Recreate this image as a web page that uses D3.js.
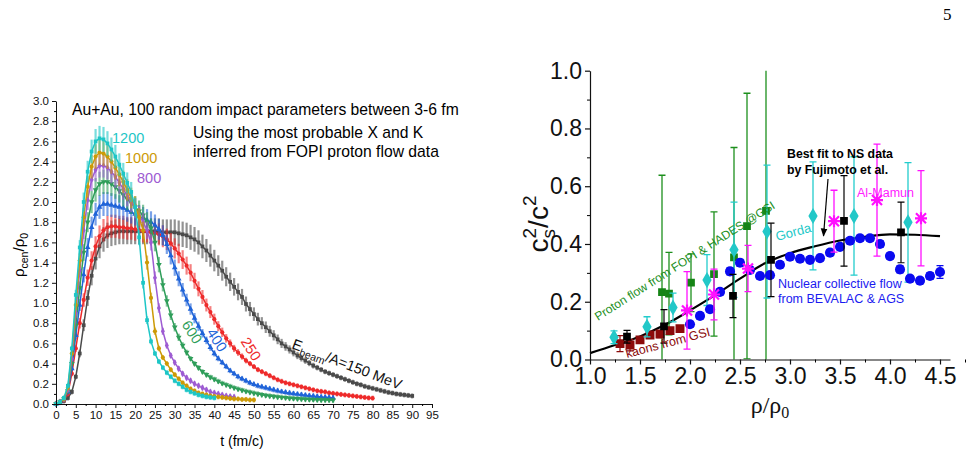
<!DOCTYPE html>
<html><head><meta charset="utf-8">
<script src="https://cdn.jsdelivr.net/npm/d3@7"></script>
<style>body{margin:0;background:#fff;} svg{display:block;font-family:Arial,"Liberation Sans",sans-serif;}</style>
</head><body><svg id="c" width="976" height="454"></svg>
<script>
// ---------------- LEFT PANEL DATA (rho_cen/rho_0 vs t, one sample per fm/c) ----------------
const timeGrid = d3.range(0, 91); // t = 0,1,2,... fm/c
const rho150 = [0,0.01,0.03,0.06,0.12,0.27,0.5,0.78,1.05,1.27,1.44,
 1.56,1.63,1.67,1.69,1.70,1.71,1.71,1.71,1.71,1.71,
 1.71,1.71,1.71,1.71,1.71,1.71,1.70,1.70,1.70,1.70,
 1.69,1.68,1.67,1.65,1.63,1.60,1.56,1.52,1.47,1.42,
 1.37,1.32,1.26,1.21,1.16,1.11,1.06,0.99,0.94,0.89,
 0.84,0.80,0.76,0.72,0.68,0.64,0.60,0.57,0.54,0.51,
 0.48,0.455,0.43,0.405,0.38,0.36,0.34,0.32,0.305,0.29,
 0.275,0.26,0.245,0.23,0.215,0.20,0.19,0.175,0.165,0.155,
 0.145,0.135,0.125,0.115,0.108,0.10,0.095,0.09,0.085,0.08];
const rho250 = [0,0.02,0.04,0.1,0.3,0.55,0.8,1.03,1.25,1.42,1.56,
 1.66,1.72,1.75,1.76,1.76,1.75,1.75,1.74,1.74,1.73,
 1.72,1.71,1.71,1.70,1.69,1.68,1.66,1.63,1.59,1.54,
 1.49,1.43,1.37,1.3,1.22,1.14,1.06,0.98,0.91,0.84,
 0.77,0.71,0.65,0.6,0.55,0.51,0.47,0.43,0.4,0.37,
 0.34,0.32,0.3,0.28,0.26,0.24,0.225,0.21,0.2,0.19,
 0.18,0.17,0.16,0.15,0.14,0.13,0.125,0.12,0.11,0.105,
 0.1,0.095,0.09,0.085,0.08,0.075,0.07,0.065,0.06,0.058];
const rho400 = [0,0.02,0.05,0.12,0.35,0.68,0.98,1.28,1.55,1.75,1.88,
 1.95,1.98,1.98,1.97,1.96,1.95,1.94,1.92,1.9,1.88,
 1.86,1.84,1.82,1.8,1.77,1.73,1.67,1.58,1.47,1.35,
 1.24,1.13,1.03,0.94,0.85,0.77,0.7,0.63,0.56,0.5,
 0.45,0.41,0.37,0.33,0.3,0.27,0.25,0.23,0.21,0.195,
 0.18,0.17,0.16,0.15,0.14,0.13,0.122,0.115,0.108,0.102,
 0.097,0.092,0.087,0.082,0.078,0.074,0.07,0.067,0.064,0.06];
const rho600 = [0,0.02,0.05,0.13,0.4,0.78,1.15,1.5,1.8,2.0,2.12,
 2.18,2.2,2.2,2.18,2.15,2.11,2.07,2.03,1.99,1.95,
 1.91,1.87,1.8,1.74,1.6,1.38,1.18,1.02,0.88,0.76,
 0.66,0.58,0.51,0.45,0.4,0.36,0.32,0.29,0.265,0.245,
 0.225,0.205,0.19,0.175,0.16,0.148,0.136,0.126,0.117,0.108,
 0.1,0.092,0.085,0.08,0.075,0.07,0.066,0.062,0.058,0.055,
 0.052,0.05,0.048,0.046,0.044,0.042,0.041,0.04,0.039,0.038];
const rho800 = [0,0.02,0.05,0.14,0.45,0.9,1.32,1.72,2.02,2.22,2.32,
 2.36,2.36,2.34,2.3,2.25,2.19,2.13,2.06,2.0,1.94,
 1.87,1.8,1.72,1.6,1.25,0.95,0.72,0.58,0.48,0.41,
 0.35,0.3,0.26,0.23,0.2,0.18,0.16,0.14,0.12,0.11,
 0.1,0.09,0.08,0.075,0.07];
const rho1000 = [0,0.02,0.05,0.16,0.5,0.98,1.42,1.85,2.15,2.35,2.45,
 2.49,2.48,2.45,2.4,2.34,2.27,2.2,2.12,2.04,1.96,
 1.85,1.72,1.4,1.05,0.72,0.55,0.46,0.4,0.34,0.29,
 0.25,0.21,0.18,0.15,0.13,0.11,0.1,0.09,0.08,0.075,
 0.07,0.065,0.06,0.055,0.05,0.05,0.045,0.045,0.04,0.04];
const rho1200 = [0,0.02,0.06,0.18,0.55,1.08,1.55,2.0,2.3,2.5,2.6,
 2.63,2.62,2.58,2.52,2.45,2.37,2.28,2.19,2.1,1.95,
 1.65,1.2,0.83,0.62,0.5,0.42,0.36,0.31,0.27,0.23,
 0.2,0.17,0.14,0.12,0.105,0.09,0.08,0.07,0.065,0.06];
const beamEnergies = ["150","250","400","600","800","1000","1200"];
const relErr = [0.075, 0.065, 0.06, 0.055, 0.05, 0.05, 0.047]; // relative error-bar half-heights
const minErr = 0.025;
const xTicksL = d3.range(0, 96, 5);
const yTicksL = d3.range(0, 3.001, 0.2);

// ---------------- RIGHT PANEL DATA (c_s^2/c^2 vs rho/rho_0) ----------------
const fitRho = [1.0,1.25,1.5,1.75,2.0,2.25,2.5,2.75,3.0,3.25,3.5,3.75,4.0,4.25,4.5];
const fitVal = [0.022,0.05,0.08,0.12,0.17,0.223,0.28,0.333,0.368,0.392,0.412,0.425,0.433,0.432,0.427];
const flowRho = [2.0,2.1,2.2,2.3,2.4,2.5,2.6,2.7,2.8,2.9,3.0,3.1,3.2,3.3,3.4,3.5,3.6,3.7,3.8,3.9,4.0,4.1,4.2,4.3,4.4,4.5];
const flowVal = [0.122,0.151,0.174,0.234,0.305,0.335,0.31,0.289,0.292,0.328,0.356,0.349,0.345,0.351,0.37,0.39,0.411,0.42,0.42,0.40,0.358,0.312,0.28,0.273,0.289,0.303];
const flowErr = [0.01,0.01,0.01,0.01,0.012,0.012,0.01,0.01,0.01,0.01,0.01,0.01,0.01,0.01,0.01,0.01,0.01,0.01,0.01,0.012,0.01,0.012,0.01,0.01,0.012,0.022];
const kaonRho = [1.3,1.4,1.5,1.6,1.7,1.8,1.9];
const kaonVal = [0.055,0.05,0.068,0.085,0.088,0.1,0.107];
const kaonErr = [0.028,0.02,0.01,0.01,0.012,0.01,0.01];
const nsRho = [1.37,1.74,2.43,2.81,3.54,4.11];
const nsVal = [0.079,0.115,0.22,0.345,0.48,0.44];
const nsErr = [0.022,0.058,0.075,0.127,0.157,0.105];
const gordaRho = [1.24,1.57,1.83,2.17,2.44,2.77,3.23,3.64,4.18];
const gordaVal = [0.077,0.113,0.18,0.275,0.38,0.443,0.497,0.497,0.475];
const gordaErr = [0.022,0.035,0.05,0.088,0.165,0.23,0.187,0.205,0.207];
const mamunRho = [1.97,2.24,2.58,3.44,3.87,4.31];
const mamunVal = [0.17,0.225,0.315,0.479,0.552,0.489];
const mamunErr = [0.134,0.088,0.08,0.107,0.194,0.165];
const protonRho = [1.72,1.79,2.01,2.24,2.44,2.57,2.76];
const protonVal = [0.233,0.228,0.266,0.296,0.354,0.462,0.515];
const protonErr = [0.405,0.143,0.1,0.215,0.38,0.46,0.52];
const xTicksR = [1.0,1.5,2.0,2.5,3.0,3.5,4.0,4.5];
const yTicksR = [0.0,0.2,0.4,0.6,0.8,1.0];

// ---------------- DRAW ----------------
const svg = d3.select("#c");

// LEFT
const xL = d3.scaleLinear().domain([0,95]).range([56,432]);
const yL = d3.scaleLinear().domain([0,3]).range([404,101]);

const colors = ["#4a4a4a","#ee2a2a","#1f63d8","#2f9e5a","#9d5bd2","#cc9a06","#1dc6c6"];
const syms = [d3.symbolSquare,d3.symbolCircle,d3.symbolTriangle,d3.symbolTriangle,d3.symbolDiamond,d3.symbolCircle,d3.symbolSquare];
const leftVals = [rho150,rho250,rho400,rho600,rho800,rho1000,rho1200];

leftVals.forEach((vals, k) => {
  const pts = vals.map((v,i)=>({t:timeGrid[i], v:v, e:Math.max(minErr, v*relErr[k])}));
  const g = svg.append("g");
  g.selectAll("line.eb").data(pts).join("line").attr("class","eb")
    .attr("x1",d=>xL(d.t)).attr("x2",d=>xL(d.t))
    .attr("y1",d=>yL(d.v+d.e)).attr("y2",d=>yL(Math.max(0,d.v-d.e)))
    .attr("stroke",colors[k]).attr("stroke-opacity",0.6).attr("stroke-width",2.2);
  g.append("path").datum(pts)
    .attr("d", d3.line().x(d=>xL(d.t)).y(d=>yL(d.v)))
    .attr("fill","none").attr("stroke",colors[k]).attr("stroke-width",1.5);
  g.selectAll("path.m").data(pts).join("path").attr("class","m")
    .attr("transform",d=>`translate(${xL(d.t)},${yL(d.v)})${k===3?" rotate(180)":""}`)
    .attr("d", d3.symbol().type(syms[k]).size(14))
    .attr("fill",colors[k]);
});

// left axes
const axL = svg.append("g").attr("transform","translate(56,0)")
  .call(d3.axisLeft(yL).tickValues(yTicksL).tickFormat(d3.format(".1f")).tickSize(4).tickSizeOuter(0).tickPadding(3));
svg.append("g").attr("transform","translate(56,0)")
  .call(d3.axisLeft(yL).tickValues(yTicksL.slice(0,-1).map(v=>v+0.1)).tickFormat("").tickSize(2).tickSizeOuter(0))
  .select(".domain").remove();
const axB = svg.append("g").attr("transform","translate(0,404)")
  .call(d3.axisBottom(xL).tickValues(xTicksL).tickFormat(d3.format("d")).tickSize(4).tickSizeOuter(0).tickPadding(3));
svg.append("g").attr("transform","translate(0,404)")
  .call(d3.axisBottom(xL).tickValues(xTicksL.slice(0,-1).map(v=>v+2.5)).tickFormat("").tickSize(2).tickSizeOuter(0))
  .select(".domain").remove();
[axL,axB].forEach(a=>{a.selectAll("text").attr("font-size",11.5).attr("font-family","Arial,'Liberation Sans',sans-serif").attr("fill","#111");
  a.selectAll("line,path").attr("stroke","#111");});

// left labels
svg.append("text").attr("transform","translate(24,255) rotate(-90)").attr("text-anchor","middle").attr("font-size",15)
  .html('ρ<tspan font-size="10.5" dy="4">cen</tspan><tspan dy="-4">/ρ</tspan><tspan font-size="10.5" dy="4">0</tspan>');
svg.append("text").attr("x",242).attr("y",446).attr("text-anchor","middle").attr("font-size",14).text("t (fm/c)");
svg.append("text").attr("x",72).attr("y",115).attr("font-size",15.7).text("Au+Au, 100 random impact parameters between 3-6 fm");
svg.append("text").attr("x",193).attr("y",138).attr("font-size",15.7).text("Using the most probable X and K");
svg.append("text").attr("x",193).attr("y",157).attr("font-size",15.7).text("inferred from FOPI proton flow data");
svg.append("text").attr("x",112).attr("y",143).attr("font-size",14.5).attr("fill",colors[6]).text(beamEnergies[6]);
svg.append("text").attr("x",125).attr("y",163).attr("font-size",14.5).attr("fill",colors[5]).text(beamEnergies[5]);
svg.append("text").attr("x",137).attr("y",183).attr("font-size",14.5).attr("fill",colors[4]).text(beamEnergies[4]);
[[3,192,332],[2,217,340],[1,251,349]].forEach(([k,x,y])=>{
  svg.append("text").attr("transform",`translate(${x},${y}) rotate(57)`).attr("text-anchor","middle").attr("dy","0.35em")
    .attr("font-size",14.5).attr("fill",colors[k]).text(beamEnergies[k]);
});
svg.append("text").attr("transform","translate(291,348) rotate(21)").attr("font-size",14.5).attr("fill","#111")
  .html('E<tspan font-size="10.5" dy="4">beam</tspan><tspan dy="-4">/A=' + beamEnergies[0] + ' MeV</tspan>');

// RIGHT
const xR = d3.scaleLinear().domain([1,4.6]).range([590,950]);
const yR = d3.scaleLinear().domain([0,1]).range([359.5,70.7]);
svg.append("clipPath").attr("id","clipR").append("rect").attr("x",588).attr("y",70.7).attr("width",364).attr("height",288.8);
const plotR = svg.append("g").attr("clip-path","url(#clipR)");

// fit curve
plotR.append("path").datum(fitRho.map((r,i)=>[r,fitVal[i]]))
  .attr("d", d3.line().x(d=>xR(d[0])).y(d=>yR(d[1])).curve(d3.curveMonotoneX))
  .attr("fill","none").attr("stroke","#000").attr("stroke-width",2.2);

function errSet(rho,val,err,color,cap,width){
  const pts = rho.map((r,i)=>({r:r,v:val[i],e:err[i]}));
  const g = plotR.append("g").attr("stroke",color).attr("stroke-width",width||1.2);
  pts.forEach(d=>{
    const x = xR(d.r);
    g.append("line").attr("x1",x).attr("x2",x).attr("y1",yR(d.v+d.e)).attr("y2",yR(d.v-d.e));
    g.append("line").attr("x1",x-cap).attr("x2",x+cap).attr("y1",yR(d.v+d.e)).attr("y2",yR(d.v+d.e));
    g.append("line").attr("x1",x-cap).attr("x2",x+cap).attr("y1",yR(d.v-d.e)).attr("y2",yR(d.v-d.e));
  });
  return pts;
}
function markers(pts,type,size,color){
  plotR.append("g").selectAll("path").data(pts).join("path")
    .attr("transform",d=>`translate(${xR(d.r)},${yR(d.v)})`)
    .attr("d",d3.symbol().type(type).size(size)).attr("fill",color);
}
// proton flow (green)
const pP = errSet(protonRho,protonVal,protonErr,"#1d8f1d",3.5,1.3);
markers(pP,d3.symbolSquare,60,"#158415");
// kaons
const pK = errSet(kaonRho,kaonVal,kaonErr,"#8b0a0a",3.5,1.2);
markers(pK,d3.symbolSquare,80,"#8b0a0a");
// Gorda (cyan)
const pG = errSet(gordaRho,gordaVal,gordaErr,"#22cccc",3.5,1.3);
markers(pG,d3.symbolDiamond,75,"#22c8c8");
// nuclear collective flow (blue)
const pF = errSet(flowRho,flowVal,flowErr,"#0a0aee",3.5,1.2);
markers(pF,d3.symbolCircle,80,"#0a0af0");
// NS black
const pN = errSet(nsRho,nsVal,nsErr,"#000",3.5,1.2);
markers(pN,d3.symbolSquare,60,"#000");
// Al-Mamun (magenta stars)
const pM = errSet(mamunRho,mamunVal,mamunErr,"#ff10ff",3.5,1.3);
plotR.append("g").selectAll("path").data(pM).join("path")
  .attr("transform",d=>`translate(${xR(d.r)},${yR(d.v)})`)
  .attr("d","M-5,-5L5,5M-5,5L5,-5M0,-6L0,6M-6,0L6,0")
  .attr("stroke","#ff10ff").attr("stroke-width",2.2).attr("fill","none");

// right axes
const axR = svg.append("g").attr("transform","translate(590,0)")
  .call(d3.axisLeft(yR).tickValues(yTicksR).tickFormat(d3.format(".1f")).tickSize(5).tickSizeOuter(0).tickPadding(3));
svg.append("g").attr("transform","translate(590,0)")
  .call(d3.axisLeft(yR).tickValues(yTicksR.slice(0,-1).map(v=>v+0.1)).tickFormat("").tickSize(3).tickSizeOuter(0))
  .select(".domain").remove();
const axRB = svg.append("g").attr("transform","translate(0,359.5)")
  .call(d3.axisBottom(xR).tickValues(xTicksR).tickFormat(d3.format(".1f")).tickSize(5).tickSizeOuter(0).tickPadding(3));
svg.append("g").attr("transform","translate(0,359.5)")
  .call(d3.axisBottom(xR).tickValues(xTicksR.map(v=>v+0.25)).tickFormat("").tickSize(3).tickSizeOuter(0))
  .select(".domain").remove();
[axR,axRB].forEach(a=>{a.selectAll("text").attr("font-size",23).attr("font-family","Arial,'Liberation Sans',sans-serif").attr("fill","#111");
  a.selectAll("line,path").attr("stroke","#111").attr("stroke-width",1.2);});

// right labels
svg.append("text").attr("transform","translate(548,224) rotate(-90)").attr("text-anchor","middle").attr("font-size",28).attr("fill","#111")
  .html('c<tspan font-size="19" dy="7">s</tspan><tspan font-size="19" dx="-9.5" dy="-19">2</tspan><tspan dy="12">/c</tspan><tspan font-size="19" dy="-12">2</tspan>');
svg.append("text").attr("x",770).attr("y",413).attr("text-anchor","middle").attr("font-size",24)
  .attr("font-family","'Liberation Serif','DejaVu Serif',serif").attr("fill","#111")
  .html('ρ/ρ<tspan font-size="16" dy="5">0</tspan>');
svg.append("text").attr("x",787).attr("y",158).attr("font-size",12.3).attr("font-weight","bold").text("Best fit to NS data");
svg.append("text").attr("x",787).attr("y",174).attr("font-size",12.3).attr("font-weight","bold").text("by Fujimoto et al.");
svg.append("defs").append("marker").attr("id","ah").attr("viewBox","0 0 10 10").attr("refX",9).attr("refY",5)
  .attr("markerWidth",7).attr("markerHeight",7).attr("orient","auto")
  .append("path").attr("d","M0,1L10,5L0,9Z").attr("fill","#000");
svg.append("line").attr("x1",828).attr("y1",179).attr("x2",823.5).attr("y2",236).attr("stroke","#000").attr("stroke-width",1.2).attr("marker-end","url(#ah)");
svg.append("text").attr("x",857).attr("y",197).attr("font-size",12.5).attr("fill","#ff20ff").text("Al-Mamun");
svg.append("text").attr("transform","translate(777,241) rotate(-15)").attr("font-size",13).attr("fill","#22c8c8").text("Gorda");
svg.append("text").attr("x",778).attr("y",288).attr("font-size",12.5).attr("fill","#1a1af0").text("Nuclear collective flow");
svg.append("text").attr("x",778).attr("y",303).attr("font-size",12.5).attr("fill","#1a1af0").text("from BEVALAC & AGS");
svg.append("text").attr("transform","translate(598,321) rotate(-32.5)").attr("font-size",12).attr("fill","#1d8f1d").text("Proton flow from FOPI & HADES @GSI");
svg.append("text").attr("transform","translate(627,358) rotate(-15)").attr("font-size",12.5).attr("fill","#8b0a0a").text("kaons from GSI");

// page number
svg.append("text").attr("x",943).attr("y",20).attr("font-size",17).attr("font-family","'Liberation Serif','DejaVu Serif',serif").text("5");
</script></body></html>
